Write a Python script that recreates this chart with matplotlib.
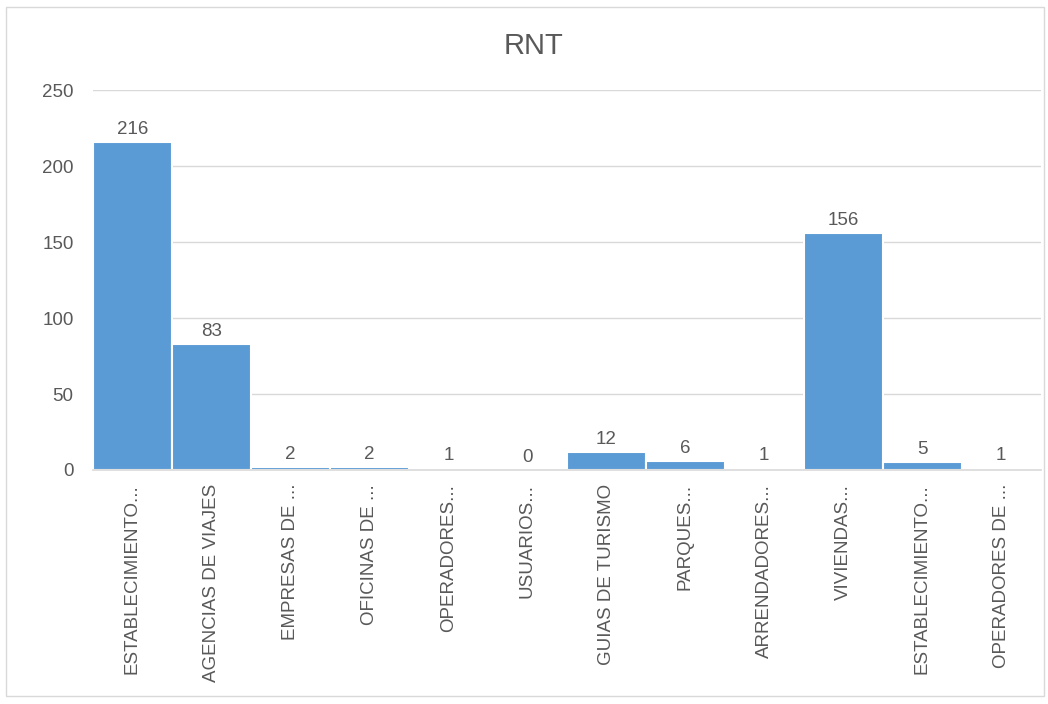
import matplotlib
matplotlib.use("Agg")
import matplotlib.pyplot as plt
from matplotlib.patches import Rectangle

CATEGORIES = [
    "ESTABLECIMIENTO...", "AGENCIAS DE VIAJES", "EMPRESAS DE ...", "OFICINAS DE ...",
    "OPERADORES...", "USUARIOS...", "GUIAS DE TURISMO", "PARQUES...",
    "ARRENDADORES...", "VIVIENDAS...", "ESTABLECIMIENTO...", "OPERADORES DE ...",
]
VALUES = [216, 83, 2, 2, 1, 0, 12, 6, 1, 156, 5, 1]
Y_TICKS = [0, 50, 100, 150, 200, 250]

BAR = "#5B9BD5"
TXT = "#595959"
GRID = "#D9D9D9"

plt.rcParams["font.family"] = ["Liberation Sans", "DejaVu Sans"]

fig = plt.figure(figsize=(10.48, 7.04), dpi=100)
ax = fig.add_axes([0.0887, 0.3324, 0.9043, 0.5396])

# chart-area border like the Excel export
fig.patches.append(Rectangle((0.006, 0.012), 0.99, 0.978, transform=fig.transFigure,
                             fill=False, ec="#D9D9D9", lw=1.0))

xs = list(range(len(VALUES)))
ax.bar(xs, VALUES, width=1.0, color=BAR, edgecolor="white", linewidth=1.5, zorder=3)
for x, v in zip(xs, VALUES):
    ax.annotate(f"{v}", (x, v), textcoords="offset points", xytext=(0, 3),
                ha="center", va="bottom", fontsize=13.5, color=TXT)

ax.set_xlim(-0.5, len(VALUES) - 0.5)
ax.set_ylim(0, 250)
ax.set_yticks(Y_TICKS)
ax.tick_params(axis="y", length=0, labelsize=13.5, labelcolor=TXT, pad=14)
ax.set_xticks(xs)
ax.set_xticklabels(CATEGORIES, rotation=90, fontsize=13.5, color=TXT)
ax.tick_params(axis="x", length=0, pad=10)
ax.grid(axis="y", color=GRID, lw=1.0, zorder=0)
for s in ("top", "right", "left"):
    ax.spines[s].set_visible(False)
ax.spines["bottom"].set_color(GRID)
ax.spines["bottom"].set_linewidth(1.2)
ax.spines["bottom"].set_zorder(4)

fig.text(0.509, 0.935, "RNT", ha="center", va="center", fontsize=21, color=TXT)

fig.savefig("out.png", dpi=100)
